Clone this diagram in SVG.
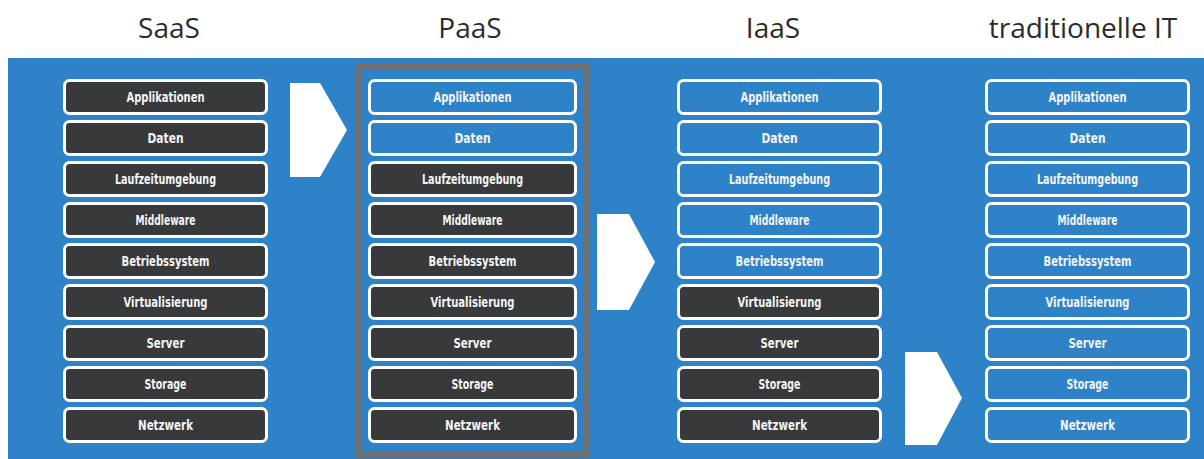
<svg xmlns="http://www.w3.org/2000/svg" width="1204" height="459" viewBox="0 0 1204 459">
<style>
.title{font-family:"Open Sans","Liberation Sans",sans-serif;font-size:28px;fill:#2b2b2b;text-anchor:middle}
.box rect{stroke:#ffffff;stroke-width:3}
.dark rect{fill:#38393a}
.blue rect{fill:#2e82c7}
.box text{font-family:"DejaVu Sans Condensed","DejaVu Sans",sans-serif;font-weight:bold;font-stretch:condensed;font-size:13.5px;fill:#f4f4f4;text-anchor:middle}
.arrow{fill:#ffffff}
</style>
<rect x="0" y="0" width="1204" height="459" fill="#ffffff"/>
<rect x="8" y="58" width="1196" height="401" fill="#2e82c7"/>
<text class="title" x="169" y="38">SaaS</text>
<text class="title" x="470" y="38">PaaS</text>
<text class="title" x="773" y="38">IaaS</text>
<text class="title" x="1083" y="38">traditionelle IT</text>
<rect x="359" y="66" width="227" height="389" fill="none" stroke="#6f6f6f" stroke-width="6"/>
<g id="connectors">
<polygon class="arrow" points="290,83 320,83 347,130 320,177 290,177"/>
<polygon class="arrow" points="597,214 629,214 655,262 629,310 597,310"/>
<polygon class="arrow" points="905,352 937,352 962,398 937,445 905,445"/>
</g>
<g id="saas">
<g id="saas-1" class="box dark"><rect x="64.5" y="80.5" width="202" height="33" rx="5"/><text x="165.5" y="102" textLength="78" lengthAdjust="spacingAndGlyphs">Applikationen</text></g>
<g id="saas-2" class="box dark"><rect x="64.5" y="121.5" width="202" height="33" rx="5"/><text x="165.5" y="143" textLength="36" lengthAdjust="spacingAndGlyphs">Daten</text></g>
<g id="saas-3" class="box dark"><rect x="64.5" y="162.5" width="202" height="33" rx="5"/><text x="165.5" y="184" textLength="101" lengthAdjust="spacingAndGlyphs">Laufzeitumgebung</text></g>
<g id="saas-4" class="box dark"><rect x="64.5" y="203.5" width="202" height="33" rx="5"/><text x="165.5" y="225" textLength="60" lengthAdjust="spacingAndGlyphs">Middleware</text></g>
<g id="saas-5" class="box dark"><rect x="64.5" y="244.5" width="202" height="33" rx="5"/><text x="165.5" y="266" textLength="88" lengthAdjust="spacingAndGlyphs">Betriebssystem</text></g>
<g id="saas-6" class="box dark"><rect x="64.5" y="285.5" width="202" height="33" rx="5"/><text x="165.5" y="307" textLength="84" lengthAdjust="spacingAndGlyphs">Virtualisierung</text></g>
<g id="saas-7" class="box dark"><rect x="64.5" y="326.5" width="202" height="33" rx="5"/><text x="165.5" y="348" textLength="38" lengthAdjust="spacingAndGlyphs">Server</text></g>
<g id="saas-8" class="box dark"><rect x="64.5" y="367.5" width="202" height="33" rx="5"/><text x="165.5" y="389" textLength="42" lengthAdjust="spacingAndGlyphs">Storage</text></g>
<g id="saas-9" class="box dark"><rect x="64.5" y="408.5" width="202" height="33" rx="5"/><text x="165.5" y="430" textLength="55" lengthAdjust="spacingAndGlyphs">Netzwerk</text></g>
</g>
<g id="paas">
<g id="paas-1" class="box blue"><rect x="369.5" y="80.5" width="206" height="33" rx="5"/><text x="472.5" y="102" textLength="78" lengthAdjust="spacingAndGlyphs">Applikationen</text></g>
<g id="paas-2" class="box blue"><rect x="369.5" y="121.5" width="206" height="33" rx="5"/><text x="472.5" y="143" textLength="36" lengthAdjust="spacingAndGlyphs">Daten</text></g>
<g id="paas-3" class="box dark"><rect x="369.5" y="162.5" width="206" height="33" rx="5"/><text x="472.5" y="184" textLength="101" lengthAdjust="spacingAndGlyphs">Laufzeitumgebung</text></g>
<g id="paas-4" class="box dark"><rect x="369.5" y="203.5" width="206" height="33" rx="5"/><text x="472.5" y="225" textLength="60" lengthAdjust="spacingAndGlyphs">Middleware</text></g>
<g id="paas-5" class="box dark"><rect x="369.5" y="244.5" width="206" height="33" rx="5"/><text x="472.5" y="266" textLength="88" lengthAdjust="spacingAndGlyphs">Betriebssystem</text></g>
<g id="paas-6" class="box dark"><rect x="369.5" y="285.5" width="206" height="33" rx="5"/><text x="472.5" y="307" textLength="84" lengthAdjust="spacingAndGlyphs">Virtualisierung</text></g>
<g id="paas-7" class="box dark"><rect x="369.5" y="326.5" width="206" height="33" rx="5"/><text x="472.5" y="348" textLength="38" lengthAdjust="spacingAndGlyphs">Server</text></g>
<g id="paas-8" class="box dark"><rect x="369.5" y="367.5" width="206" height="33" rx="5"/><text x="472.5" y="389" textLength="42" lengthAdjust="spacingAndGlyphs">Storage</text></g>
<g id="paas-9" class="box dark"><rect x="369.5" y="408.5" width="206" height="33" rx="5"/><text x="472.5" y="430" textLength="55" lengthAdjust="spacingAndGlyphs">Netzwerk</text></g>
</g>
<g id="iaas">
<g id="iaas-1" class="box blue"><rect x="678.5" y="80.5" width="202" height="33" rx="5"/><text x="779.5" y="102" textLength="78" lengthAdjust="spacingAndGlyphs">Applikationen</text></g>
<g id="iaas-2" class="box blue"><rect x="678.5" y="121.5" width="202" height="33" rx="5"/><text x="779.5" y="143" textLength="36" lengthAdjust="spacingAndGlyphs">Daten</text></g>
<g id="iaas-3" class="box blue"><rect x="678.5" y="162.5" width="202" height="33" rx="5"/><text x="779.5" y="184" textLength="101" lengthAdjust="spacingAndGlyphs">Laufzeitumgebung</text></g>
<g id="iaas-4" class="box blue"><rect x="678.5" y="203.5" width="202" height="33" rx="5"/><text x="779.5" y="225" textLength="60" lengthAdjust="spacingAndGlyphs">Middleware</text></g>
<g id="iaas-5" class="box blue"><rect x="678.5" y="244.5" width="202" height="33" rx="5"/><text x="779.5" y="266" textLength="88" lengthAdjust="spacingAndGlyphs">Betriebssystem</text></g>
<g id="iaas-6" class="box dark"><rect x="678.5" y="285.5" width="202" height="33" rx="5"/><text x="779.5" y="307" textLength="84" lengthAdjust="spacingAndGlyphs">Virtualisierung</text></g>
<g id="iaas-7" class="box dark"><rect x="678.5" y="326.5" width="202" height="33" rx="5"/><text x="779.5" y="348" textLength="38" lengthAdjust="spacingAndGlyphs">Server</text></g>
<g id="iaas-8" class="box dark"><rect x="678.5" y="367.5" width="202" height="33" rx="5"/><text x="779.5" y="389" textLength="42" lengthAdjust="spacingAndGlyphs">Storage</text></g>
<g id="iaas-9" class="box dark"><rect x="678.5" y="408.5" width="202" height="33" rx="5"/><text x="779.5" y="430" textLength="55" lengthAdjust="spacingAndGlyphs">Netzwerk</text></g>
</g>
<g id="trad">
<g id="trad-1" class="box blue"><rect x="986.5" y="80.5" width="202" height="33" rx="5"/><text x="1087.5" y="102" textLength="78" lengthAdjust="spacingAndGlyphs">Applikationen</text></g>
<g id="trad-2" class="box blue"><rect x="986.5" y="121.5" width="202" height="33" rx="5"/><text x="1087.5" y="143" textLength="36" lengthAdjust="spacingAndGlyphs">Daten</text></g>
<g id="trad-3" class="box blue"><rect x="986.5" y="162.5" width="202" height="33" rx="5"/><text x="1087.5" y="184" textLength="101" lengthAdjust="spacingAndGlyphs">Laufzeitumgebung</text></g>
<g id="trad-4" class="box blue"><rect x="986.5" y="203.5" width="202" height="33" rx="5"/><text x="1087.5" y="225" textLength="60" lengthAdjust="spacingAndGlyphs">Middleware</text></g>
<g id="trad-5" class="box blue"><rect x="986.5" y="244.5" width="202" height="33" rx="5"/><text x="1087.5" y="266" textLength="88" lengthAdjust="spacingAndGlyphs">Betriebssystem</text></g>
<g id="trad-6" class="box blue"><rect x="986.5" y="285.5" width="202" height="33" rx="5"/><text x="1087.5" y="307" textLength="84" lengthAdjust="spacingAndGlyphs">Virtualisierung</text></g>
<g id="trad-7" class="box blue"><rect x="986.5" y="326.5" width="202" height="33" rx="5"/><text x="1087.5" y="348" textLength="38" lengthAdjust="spacingAndGlyphs">Server</text></g>
<g id="trad-8" class="box blue"><rect x="986.5" y="367.5" width="202" height="33" rx="5"/><text x="1087.5" y="389" textLength="42" lengthAdjust="spacingAndGlyphs">Storage</text></g>
<g id="trad-9" class="box blue"><rect x="986.5" y="408.5" width="202" height="33" rx="5"/><text x="1087.5" y="430" textLength="55" lengthAdjust="spacingAndGlyphs">Netzwerk</text></g>
</g>
</svg>
